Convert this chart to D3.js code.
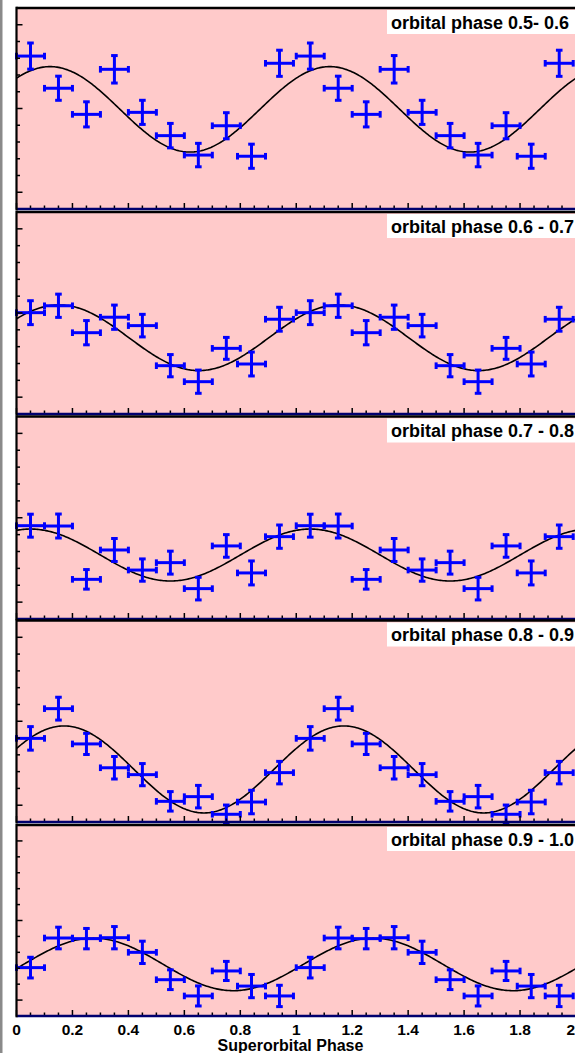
<!DOCTYPE html>
<html>
<head>
<meta charset="utf-8">
<script src="https://cdn.jsdelivr.net/npm/d3@7"></script>
<style>
  body { margin: 0; background: #fff; overflow: hidden; }
  svg { display: block; }
  text { font-family: "Liberation Sans", Arial, sans-serif; font-weight: bold; }
</style>
</head>
<body>
<svg></svg>
<script>
// superorbital phase bins (folded, shown twice)
const phases = [0.05, 0.15, 0.25, 0.35, 0.45, 0.55, 0.65, 0.75, 0.84, 0.94];
const phaseErr = 0.05;

const panelLabels = [
  'orbital phase 0.5- 0.6',
  'orbital phase 0.6 - 0.7',
  'orbital phase 0.7 - 0.8',
  'orbital phase 0.8 - 0.9',
  'orbital phase 0.9 - 1.0'
];

// rate values per panel (arbitrary units)
const rate1 = [8.13, 6.21, 4.65, 7.34, 4.77, 3.38, 2.22, 3.97, 2.15, 7.70];
const rate2 = [5.02, 5.43, 3.83, 4.75, 4.25, 1.87, 0.92, 2.90, 1.97, 4.63];
const rate3 = [4.53, 4.51, 1.35, 3.09, 1.90, 2.34, 0.80, 3.33, 1.73, 3.88];
const rate4 = [3.98, 5.75, 3.65, 2.23, 1.82, 0.23, 0.51, -0.54, 0.19, 1.94];
const rate5 = [2.04, 3.90, 3.86, 3.92, 3.00, 1.28, 0.26, 1.83, 0.88, 0.26];

const err1 = [0.78, 0.72, 0.75, 0.82, 0.72, 0.73, 0.70, 0.78, 0.72, 0.78];
const err2 = [0.71, 0.69, 0.72, 0.72, 0.67, 0.66, 0.69, 0.65, 0.71, 0.71];
const err3 = [0.68, 0.71, 0.58, 0.68, 0.66, 0.68, 0.67, 0.67, 0.71, 0.69];
const err4 = [0.70, 0.68, 0.63, 0.67, 0.66, 0.58, 0.67, 0.55, 0.70, 0.67];
const err5 = [0.65, 0.68, 0.64, 0.70, 0.70, 0.62, 0.63, 0.60, 0.73, 0.67];

// sine fit per panel: mean, amplitude, phase of maximum
const fitMean = [4.95, 3.53, 2.79, 2.13, 2.24];
const fitAmp = [2.55, 1.95, 1.54, 2.59, 1.65];
const fitPeak = [0.12, 0.152, 0.05, 0.17, 0.275];

const xTicks = [0, 0.2, 0.4, 0.6, 0.8, 1, 1.2, 1.4, 1.6, 1.8, 2];

const rates = [rate1, rate2, rate3, rate4, rate5];
const errs = [err1, err2, err3, err4, err5];

// panel frames in pixels (top, bottom)
const frames = [[8, 209], [212, 414], [416.5, 619], [620.5, 822], [825, 1016]];

const width = 575;
const height = 1053;
const svg = d3.select('svg').attr('width', width).attr('height', height);

const x = d3.scaleLinear().domain([0, 2]).range([16.5, 576]);
const blue = '#0000ff';

// gray line at the left edge
svg.append('rect').attr('x', 0).attr('y', 0).attr('width', 2.5).attr('height', height).attr('fill', '#8a8a8a');

frames.forEach((f, i) => {
  const y = d3.scaleLinear().domain([-1, 11]).range([f[1], f[0]]);
  const g = svg.append('g');

  g.append('rect')
    .attr('x', x(0)).attr('y', f[0])
    .attr('width', x(2) - x(0)).attr('height', f[1] - f[0])
    .attr('fill', '#ffcaca');

  // data repeated over two cycles
  const pts = phases.map((p, k) => ({ p: p, v: rates[i][k], e: errs[i][k] }))
    .concat(phases.map((p, k) => ({ p: p + 1, v: rates[i][k], e: errs[i][k] })));

  // fit curve
  const curve = d3.range(0, 2.0001, 0.005).map(p => [p, fitMean[i] + fitAmp[i] * Math.cos(2 * Math.PI * (p - fitPeak[i]))]);
  g.append('path')
    .attr('d', d3.line().x(d => x(d[0])).y(d => y(d[1]))(curve))
    .attr('fill', 'none').attr('stroke', '#000').attr('stroke-width', 1.6);

  const pg = g.selectAll('g.pt').data(pts).enter().append('g').attr('class', 'pt')
    .attr('stroke', blue).attr('stroke-width', 3);
  // horizontal bar
  pg.append('line')
    .attr('x1', d => x(d.p - phaseErr)).attr('x2', d => x(d.p + phaseErr))
    .attr('y1', d => y(d.v)).attr('y2', d => y(d.v));
  // vertical bar
  pg.append('line')
    .attr('x1', d => x(d.p)).attr('x2', d => x(d.p))
    .attr('y1', d => y(d.v - d.e)).attr('y2', d => y(d.v + d.e));
  // caps
  const cap = 3.3;
  pg.append('line')
    .attr('x1', d => x(d.p) - cap).attr('x2', d => x(d.p) + cap)
    .attr('y1', d => y(d.v + d.e)).attr('y2', d => y(d.v + d.e));
  pg.append('line')
    .attr('x1', d => x(d.p) - cap).attr('x2', d => x(d.p) + cap)
    .attr('y1', d => y(d.v - d.e)).attr('y2', d => y(d.v - d.e));
  pg.append('line')
    .attr('x1', d => x(d.p - phaseErr)).attr('x2', d => x(d.p - phaseErr))
    .attr('y1', d => y(d.v) - cap).attr('y2', d => y(d.v) + cap);
  pg.append('line')
    .attr('x1', d => x(d.p + phaseErr)).attr('x2', d => x(d.p + phaseErr))
    .attr('y1', d => y(d.v) - cap).attr('y2', d => y(d.v) + cap);

  // left axis ticks (inward)
  g.selectAll('line.yt').data(d3.range(0, 11)).enter().append('line')
    .attr('x1', x(0)).attr('x2', d => x(0) + (d % 5 === 0 ? 6 : 3.5))
    .attr('y1', d => y(d)).attr('y2', d => y(d))
    .attr('stroke', '#000').attr('stroke-width', 1.5);

  // bottom ticks (inward)
  g.selectAll('line.xt').data(d3.range(0, 41)).enter().append('line')
    .attr('x1', d => x(d * 0.05)).attr('x2', d => x(d * 0.05))
    .attr('y1', f[1]).attr('y2', d => f[1] - (d % 4 === 0 ? 6 : 3.5))
    .attr('stroke', '#000').attr('stroke-width', 1.5);

  // frame lines
  g.append('line').attr('x1', x(0)).attr('x2', width).attr('y1', f[0]).attr('y2', f[0])
    .attr('stroke', '#000').attr('stroke-width', 2.6);
  g.append('line').attr('x1', x(0)).attr('x2', width).attr('y1', f[1]).attr('y2', f[1])
    .attr('stroke', '#00006e').attr('stroke-width', 2.6);
  g.append('line').attr('x1', x(0)).attr('x2', x(0)).attr('y1', f[0] - 1.3).attr('y2', f[1] + 1.3)
    .attr('stroke', '#000').attr('stroke-width', 2.2);

  // label box
  g.append('rect').attr('x', 387).attr('y', f[0] + 2).attr('width', 190).attr('height', 24).attr('fill', '#fff');
  g.append('text').attr('x', 391).attr('y', f[0] + 20.5)
    .attr('font-size', '18px').attr('fill', '#000').text(panelLabels[i]);
});

// x axis labels (last one kept inside the page edge)
svg.selectAll('text.xl').data(xTicks).enter().append('text')
  .attr('x', d => d === 2 ? width : x(d)).attr('y', 1035)
  .attr('text-anchor', d => d === 2 ? 'end' : 'middle').attr('font-size', '15.5px')
  .text(d => d3.format('~g')(d));

svg.append('text').attr('x', 290.5).attr('y', 1051)
  .attr('text-anchor', 'middle').attr('font-size', '16px')
  .text('Superorbital Phase');
</script>
</body>
</html>
